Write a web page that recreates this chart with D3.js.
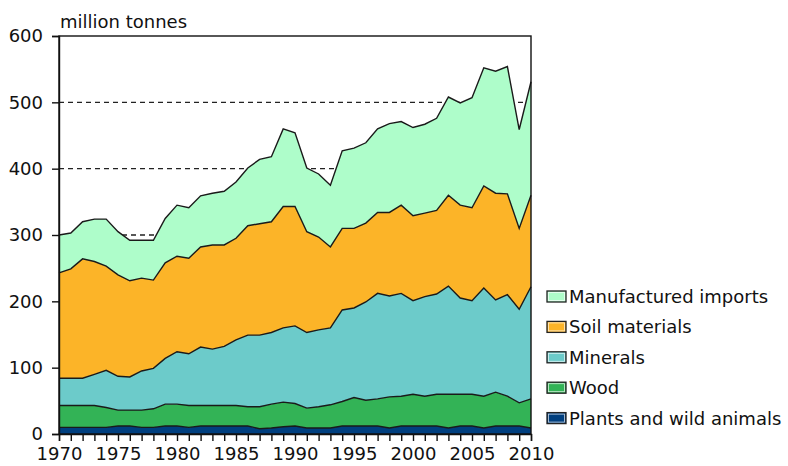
<!DOCTYPE html>
<html lang="en">
<head>
<meta charset="UTF-8">
<title>Material input</title>
<script src="https://cdn.jsdelivr.net/npm/d3@7"></script>
<style>
  body { margin: 0; background: #fff; }
  text { font-family: "DejaVu Sans", Verdana, sans-serif; fill: #111; }
</style>
</head>
<body>
<div id="chart"></div>
<script>
// years and stacked series (million tonnes)
var years = d3.range(1970, 2011);
var plants = [10,10,10,10,10,12,12,10,10,12,12,10,12,12,12,12,12,8,9,11,12,9,9,9,12,12,12,12,9,12,12,12,12,9,12,12,9,12,12,12,9];
var wood = [33,33,33,33,30,24,24,26,28,33,33,33,31,31,31,31,29,33,36,37,34,30,32,35,37,43,39,41,47,45,48,45,48,51,48,48,48,51,45,35,44];
var minerals = [41,41,41,47,56,51,50,59,61,69,79,78,88,85,89,99,108,108,108,112,117,114,116,116,138,135,148,159,152,155,141,150,151,163,145,141,163,139,153,141,169];
var soil = [159,165,180,170,157,153,145,140,133,144,144,144,151,157,153,153,165,168,167,183,180,152,140,122,123,120,119,122,126,133,128,126,126,137,140,140,154,161,152,122,138];
var manufactured = [57,54,56,64,71,65,61,57,60,67,77,76,77,78,81,85,87,97,98,117,111,96,95,93,117,121,121,126,134,126,133,134,139,148,154,166,178,184,192,149,171];

var seriesNames = ["Plants and wild animals", "Wood", "Minerals", "Soil materials", "Manufactured imports"];
var seriesColors = ["#003f7f", "#33b356", "#6ccbca", "#fcb428", "#aefdca"];
var yTicks = [0, 100, 200, 300, 400, 500, 600];
var xTickYears = [1970, 1975, 1980, 1985, 1990, 1995, 2000, 2005, 2010];

var table = years.map(function(y, i) {
    return {year: y, p: plants[i], w: wood[i], m: minerals[i], s: soil[i], f: manufactured[i]};
});
var keys = ["p", "w", "m", "s", "f"];

var width = 788, height = 466;
var margin = {top: 36, right: 257, bottom: 32, left: 59};

var svg = d3.select("#chart").append("svg")
    .attr("width", width)
    .attr("height", height);

var x = d3.scaleLinear().domain([1970, 2010]).range([margin.left, width - margin.right]);
var y = d3.scaleLinear().domain([0, 600]).range([height - margin.bottom, margin.top]);

// dashed grid lines
svg.append("g").selectAll("line")
    .data(yTicks.filter(function(d) { return d > 0 && d < 600; }))
    .enter().append("line")
    .attr("x1", x(1970)).attr("x2", x(2010))
    .attr("y1", function(d) { return y(d); })
    .attr("y2", function(d) { return y(d); })
    .attr("stroke", "#222")
    .attr("stroke-width", 1.3)
    .attr("stroke-dasharray", "5,4");

var stack = d3.stack().keys(keys);
var layers = stack(table);

var area = d3.area()
    .x(function(d) { return x(d.data.year); })
    .y0(function(d) { return y(d[0]); })
    .y1(function(d) { return y(d[1]); });

var topLine = d3.line()
    .x(function(d) { return x(d.data.year); })
    .y(function(d) { return y(d[1]); });

svg.append("g").selectAll("path")
    .data(layers)
    .enter().append("path")
    .attr("d", area)
    .attr("fill", function(d, i) { return seriesColors[i]; });

svg.append("g").selectAll("path")
    .data(layers)
    .enter().append("path")
    .attr("d", topLine)
    .attr("fill", "none")
    .attr("stroke", "#1a1a1a")
    .attr("stroke-width", 1.4);

// plot frame
svg.append("rect")
    .attr("x", x(1970)).attr("y", y(600))
    .attr("width", x(2010) - x(1970))
    .attr("height", y(0) - y(600))
    .attr("fill", "none")
    .attr("stroke", "#111")
    .attr("stroke-width", 1.4);

// y axis
var yAxis = d3.axisLeft(y).tickValues(yTicks).tickSize(7).tickPadding(9);
var gy = svg.append("g").attr("transform", "translate(" + x(1970) + ",0)").call(yAxis);
gy.select(".domain").attr("stroke", "#111").attr("stroke-width", 1.4);
gy.selectAll(".tick line").attr("stroke", "#111").attr("stroke-width", 1.4);
gy.selectAll("text").style("font-size", "18px").attr("fill", "#111");

// x axis: tick every year, label every 5
var xAxis = d3.axisBottom(x).tickValues(years).tickSize(7).tickPadding(6)
    .tickFormat(function(d) { return xTickYears.indexOf(d) >= 0 ? d : ""; });
var gx = svg.append("g").attr("transform", "translate(0," + y(0) + ")").call(xAxis);
gx.select(".domain").attr("stroke", "#111").attr("stroke-width", 1.4);
gx.selectAll(".tick line").attr("stroke", "#111").attr("stroke-width", 1.4);
gx.selectAll("text").style("font-size", "18px").attr("fill", "#111");

// unit label
svg.append("text")
    .attr("x", 60).attr("y", 28)
    .style("font-size", "18px")
    .text("million tonnes");

// legend (top series first)
var legend = svg.append("g").attr("transform", "translate(547,291)");
var order = [4, 3, 2, 1, 0];
var item = legend.selectAll("g")
    .data(order)
    .enter().append("g")
    .attr("transform", function(d, i) { return "translate(0," + (i * 30.4) + ")"; });
item.append("rect")
    .attr("width", 19).attr("height", 11)
    .attr("fill", function(d) { return seriesColors[d]; })
    .attr("stroke", "#222").attr("stroke-width", 1.3);
item.append("rect")
    .attr("x", 1.5).attr("y", 1.5).attr("width", 16).attr("height", 8)
    .attr("fill", "none").attr("stroke", "#fff").attr("stroke-width", 0.8).attr("opacity", 0.8);
item.append("text")
    .attr("x", 22).attr("y", 12)
    .style("font-size", "18px")
    .text(function(d) { return seriesNames[d]; });
</script>
</body>
</html>
